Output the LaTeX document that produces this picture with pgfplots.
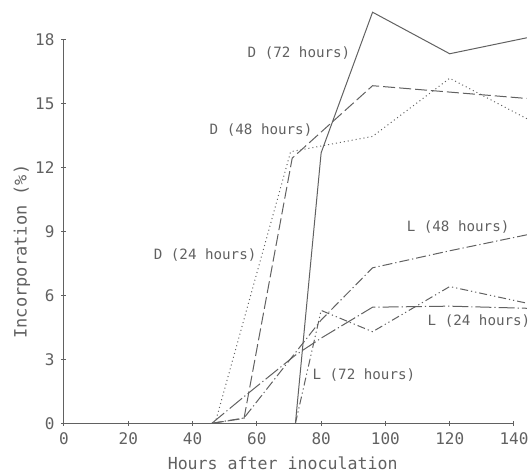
\documentclass[border=0pt]{standalone}
\usepackage{fontspec}
\setmainfont{DejaVu Sans Mono}
\usepackage{pgfplots}
\pgfplotsset{compat=1.18}

\colorlet{ink}{black!62}

\begin{document}
\begin{tikzpicture}
\begin{axis}[
  at={(0,0)}, anchor=south west,
  width=225pt, height=191.7pt, scale only axis,
  xmin=0, xmax=140, ymin=0, ymax=18,
  axis x line=bottom, axis y line=left,
  axis line style={-, ink, line width=0.5pt},
  xtick={0,20,...,140}, ytick={0,3,...,18},
  major tick length=2.5pt,
  tick style={ink, line width=0.5pt},
  tick label style={font=\fontsize{8}{9}\selectfont, text=ink},
  /pgf/number format/assume math mode=true,
  xlabel={Hours after inoculation},
  ylabel={Incorporation (\%)},
  every axis x label/.style={at={([yshift=-20pt]axis description cs:0.486,0)}, anchor=center,
    font=\fontsize{8.3}{9}\selectfont, text=ink},
  every axis y label/.style={at={([xshift=-21pt]axis description cs:0,0.448)}, anchor=center, rotate=90,
    font=\fontsize{8.5}{9}\selectfont, text=ink},
  clip=false,
  every axis plot/.append style={ink, line width=0.5pt, mark=none},
  nodes={font=\fontsize{7.1}{8}\selectfont, text=ink},
]
% D (72 hours)
\addplot[solid] coordinates {(72,0) (80,12.7) (96,19.3) (120,17.35) (144,18.1)};
% D (48 hours)
\addplot[dash pattern=on 6pt off 2pt] coordinates {(46,0) (56,0.23) (71,12.45) (96,15.85) (144,15.25)};
% D (24 hours)
\addplot[dash pattern=on 0.5pt off 1.5pt] coordinates {(47,0) (70.5,12.75) (96,13.47) (120,16.2) (144,14.3)};
% L (48 hours)
\addplot[dash pattern=on 5pt off 1.5pt on 0.6pt off 1.5pt] coordinates {(46,0) (56,0.25) (80,4.85) (96,7.3) (120,8.1) (144,8.85)};
% L (24 hours)
\addplot[dash pattern=on 8pt off 1.5pt on 0.6pt off 1.5pt] coordinates {(46,0) (56,1.25) (72,3.2) (80,4.0) (96,5.45) (120,5.5) (144,5.4)};
% L (72 hours)
\addplot[dash pattern=on 4pt off 1.5pt on 0.6pt off 1.5pt on 0.6pt off 1.5pt] coordinates {(72,0) (80,5.3) (96,4.3) (120,6.42) (144,5.64)};

\node at (axis cs:73.1,17.4) {D (72 hours)};
\node at (axis cs:61.3,13.78) {D (48 hours)};
\node at (axis cs:43.9,7.9) {D (24 hours)};
\node at (axis cs:122.6,9.23) {L (48 hours)};
\node at (axis cs:129.1,4.78) {L (24 hours)};
\node at (axis cs:93.3,2.27) {L (72 hours)};
\end{axis}
\pgfresetboundingbox
\path[use as bounding box] (-32pt,-24.85pt) rectangle (233.5pt,211.65pt);
\end{tikzpicture}
\end{document}
